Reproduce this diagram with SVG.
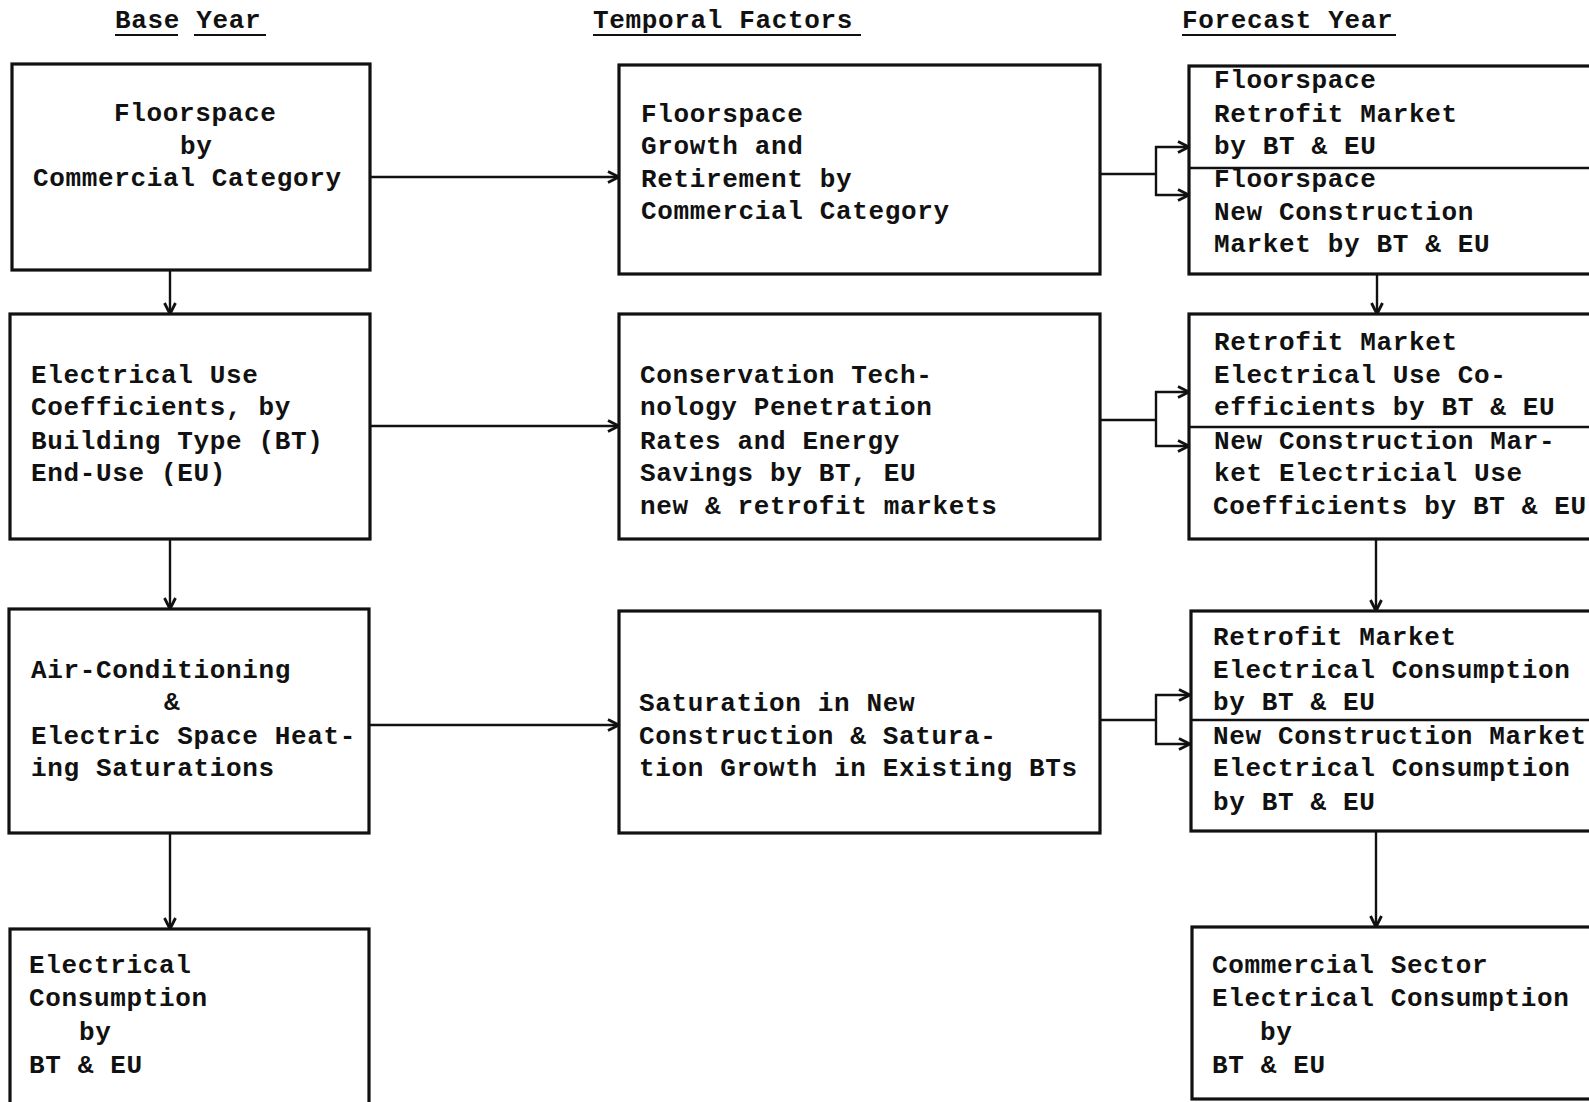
<svg xmlns="http://www.w3.org/2000/svg" width="1589" height="1102" viewBox="0 0 1589 1102">
<defs>
<style>
text{font-family:"Liberation Mono","Courier New",monospace;font-size:26px;font-weight:bold;letter-spacing:0.65px;fill:#111}
.box{fill:#fff;stroke:#111;stroke-width:3.2}
.div{stroke:#111;stroke-width:2.6}
.c{fill:none;stroke:#111;stroke-width:2.4}
.ca{fill:none;stroke:#111;stroke-width:2.4;marker-end:url(#ah)}
.ul{stroke:#111;stroke-width:2}
</style>
<marker id="ah" viewBox="0 0 14 14" refX="13" refY="7" markerWidth="14" markerHeight="14" markerUnits="userSpaceOnUse" orient="auto">
<path d="M2,1.5 L13,7 L2,12.5" fill="none" stroke="#111" stroke-width="2.8"/>
</marker>
</defs>
<rect width="1589" height="1102" fill="#fff"/>

<g id="headings">
<text x="115" y="28">Base Year</text>
<line class="ul" x1="115" y1="35" x2="178" y2="35"/>
<line class="ul" x1="194" y1="35" x2="266" y2="35"/>
<text x="593" y="28">Temporal Factors</text>
<line class="ul" x1="593" y1="35" x2="861" y2="35"/>
<text x="1182" y="28">Forecast Year</text>
<line class="ul" x1="1182" y1="35" x2="1396" y2="35"/>
</g>

<g id="connectors">
<line class="ca" x1="370" y1="177" x2="619" y2="177"/>
<line class="ca" x1="370" y1="426" x2="619" y2="426"/>
<line class="ca" x1="369" y1="725" x2="619" y2="725"/>
<line class="ca" x1="170" y1="270" x2="170" y2="314"/>
<line class="ca" x1="170" y1="539" x2="170" y2="609"/>
<line class="ca" x1="170" y1="833" x2="170" y2="929"/>
<path class="c" d="M1100,174 H1156 M1156,146 V196"/>
<line class="ca" x1="1155" y1="147" x2="1189" y2="147"/>
<line class="ca" x1="1155" y1="195" x2="1189" y2="195"/>
<path class="c" d="M1100,420 H1156 M1156,391 V447"/>
<line class="ca" x1="1155" y1="392" x2="1189" y2="392"/>
<line class="ca" x1="1155" y1="446" x2="1189" y2="446"/>
<path class="c" d="M1100,720 H1156 M1156,694 V745"/>
<line class="ca" x1="1155" y1="695" x2="1190" y2="695"/>
<line class="ca" x1="1155" y1="744" x2="1190" y2="744"/>
<line class="ca" x1="1377" y1="274" x2="1377" y2="314"/>
<line class="ca" x1="1376" y1="539" x2="1376" y2="611"/>
<line class="ca" x1="1376" y1="831" x2="1376" y2="927"/>
</g>

<g id="base-floorspace">
<rect class="box" x="12" y="64" width="358" height="206"/>
<text x="114" y="121">Floorspace</text>
<text x="180" y="154">by</text>
<text x="33" y="186">Commercial Category</text>
</g>

<g id="base-coefficients">
<rect class="box" x="10" y="314" width="360" height="225"/>
<text x="31" y="383">Electrical Use</text>
<text x="31" y="415">Coefficients, by</text>
<text x="31" y="449">Building Type (BT)</text>
<text x="31" y="481">End-Use (EU)</text>
</g>

<g id="base-saturations">
<rect class="box" x="9" y="609" width="360" height="224"/>
<text x="31" y="678">Air-Conditioning</text>
<text x="164" y="710">&amp;</text>
<text x="31" y="744">Electric Space Heat-</text>
<text x="31" y="776">ing Saturations</text>
</g>

<g id="base-consumption">
<rect class="box" x="10" y="929" width="359" height="200"/>
<text x="29" y="973">Electrical</text>
<text x="29" y="1006">Consumption</text>
<text x="79" y="1040">by</text>
<text x="29" y="1073">BT &amp; EU</text>
</g>

<g id="temporal-floorspace">
<rect class="box" x="619" y="65" width="481" height="209"/>
<text x="641" y="122">Floorspace</text>
<text x="641" y="154">Growth and</text>
<text x="641" y="187">Retirement by</text>
<text x="641" y="219">Commercial Category</text>
</g>

<g id="temporal-conservation">
<rect class="box" x="619" y="314" width="481" height="225"/>
<text x="640" y="383">Conservation Tech-</text>
<text x="640" y="415">nology Penetration</text>
<text x="640" y="449">Rates and Energy</text>
<text x="640" y="481">Savings by BT, EU</text>
<text x="640" y="514">new &amp; retrofit markets</text>
</g>

<g id="temporal-saturation">
<rect class="box" x="619" y="611" width="481" height="222"/>
<text x="639" y="711">Saturation in New</text>
<text x="639" y="744">Construction &amp; Satura-</text>
<text x="639" y="776">tion Growth in Existing BTs</text>
</g>

<g id="forecast-floorspace">
<rect class="box" x="1189" y="66" width="460" height="208"/>
<line class="div" x1="1189" y1="168" x2="1589" y2="168"/>
<text x="1214" y="88">Floorspace</text>
<text x="1214" y="122">Retrofit Market</text>
<text x="1214" y="154">by BT &amp; EU</text>
<text x="1214" y="187">Floorspace</text>
<text x="1214" y="220">New Construction</text>
<text x="1214" y="252">Market by BT &amp; EU</text>
</g>

<g id="forecast-coefficients">
<rect class="box" x="1189" y="314" width="460" height="225"/>
<line class="div" x1="1189" y1="427" x2="1589" y2="427"/>
<text x="1214" y="350">Retrofit Market</text>
<text x="1214" y="383">Electrical Use Co-</text>
<text x="1214" y="415">efficients by BT &amp; EU</text>
<text x="1214" y="449">New Construction Mar-</text>
<text x="1214" y="481">ket Electricial Use</text>
<text x="1213" y="514">Coefficients by BT &amp; EU</text>
</g>

<g id="forecast-consumption">
<rect class="box" x="1191" y="611" width="460" height="220"/>
<line class="div" x1="1191" y1="720" x2="1589" y2="720"/>
<text x="1213" y="645">Retrofit Market</text>
<text x="1213" y="678">Electrical Consumption</text>
<text x="1213" y="710">by BT &amp; EU</text>
<text x="1213" y="744">New Construction Market</text>
<text x="1213" y="776">Electrical Consumption</text>
<text x="1213" y="810">by BT &amp; EU</text>
</g>

<g id="forecast-sector">
<rect class="box" x="1192" y="927" width="460" height="172"/>
<text x="1212" y="973">Commercial Sector</text>
<text x="1212" y="1006">Electrical Consumption</text>
<text x="1260" y="1040">by</text>
<text x="1212" y="1073">BT &amp; EU</text>
</g>
</svg>
